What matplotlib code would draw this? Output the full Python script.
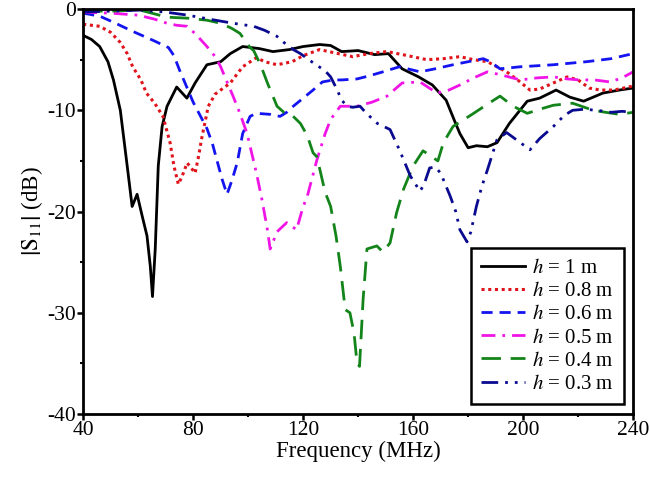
import matplotlib
matplotlib.use("Agg")
import matplotlib.pyplot as plt

plt.rcParams['font.family'] = ['Liberation Serif', 'DejaVu Serif']
plt.rcParams['mathtext.fontset'] = 'stix'
plt.rcParams['axes.unicode_minus'] = False

# h = 1 m
f_1m = [40, 43, 46, 49, 51, 53.5, 56, 57.8, 59.6, 61.5, 63.2, 64.4, 65.2, 66.2, 67.3, 68.7, 70.5,
        74, 77.7, 80.7, 85, 90, 93.5, 98, 104, 109, 115, 120, 126, 130, 134, 140, 146, 151, 156,
        162, 167, 172, 175, 177, 180, 183, 187, 190.5, 195, 201.5, 206, 212, 217, 222, 229, 235, 240]
s_1m = [-2.6, -3.0, -3.7, -5.2, -7.0, -10.0, -15.5, -19.5, -18.3, -20.5, -22.4, -25.4, -28.4, -23.7,
        -15.5, -11.6, -9.6, -7.7, -8.8, -7.3, -5.5, -5.2, -4.4, -3.7, -3.9, -4.2, -4.0, -3.7, -3.5,
        -3.6, -4.2, -4.1, -4.5, -4.4, -5.9, -6.7, -7.5, -9.0, -11.0, -12.3, -13.7, -13.5, -13.6,
        -13.2, -11.3, -9.1, -8.8, -8.0, -8.7, -9.1, -8.3, -8.0, -7.8]

# h = 0.8 m
f_08m = [40, 46, 50, 53.5, 56, 58, 61, 63, 66, 69, 71.6, 73, 74.6, 76, 77.8, 79, 80.7, 82, 83, 85.5,
         88, 90, 93.5, 98, 103, 106, 110.5, 116, 120, 126, 131, 138, 144, 150.5, 158, 165, 171, 177,
         182, 187, 194, 198, 202.5, 206, 211, 216, 220, 224, 228, 233, 240]
s_08m = [-1.5, -1.7, -2.3, -3.3, -4.4, -5.7, -7.0, -8.3, -9.3, -10.6, -13.2, -15.5, -17.3, -16.5,
         -15.2, -15.6, -16.2, -14.5, -12.9, -9.6, -8.4, -8.0, -7.3, -5.7, -4.8, -5.2, -5.5, -5.2,
         -4.6, -4.0, -4.3, -4.7, -4.4, -4.2, -4.6, -5.0, -4.9, -4.7, -5.0, -5.2, -6.2, -7.0, -8.0,
         -7.9, -7.3, -6.7, -7.0, -7.8, -8.0, -8.0, -7.6]

# h = 0.6 m
f_06m = [40, 46, 51, 58, 65.5, 71, 73, 75, 77.5, 80, 82.5, 85, 87, 88.7, 90.5, 92.3, 94, 96, 98, 100.7,
         103, 108, 111.6, 114, 116.4, 120, 123.6, 127, 131, 134, 139.6, 144, 149, 155, 158, 162.5,
         168, 174.5, 180, 185.5, 188, 191.6, 199, 211, 223, 232, 240]
s_06m = [-0.4, -0.7, -1.3, -2.2, -3.1, -3.8, -4.6, -6.0, -7.6, -9.2, -10.5, -11.8, -13.3, -15.0,
         -16.8, -18.3, -17.0, -15.2, -12.3, -10.6, -10.3, -10.4, -10.6, -10.2, -9.6, -8.8, -8.0,
         -7.2, -7.0, -7.0, -6.9, -6.6, -6.2, -5.7, -5.9, -6.2, -5.9, -5.5, -5.2, -4.9, -5.2, -5.9,
         -5.7, -5.5, -5.2, -4.9, -4.4]

# h = 0.5 m
f_05m = [40, 50, 60, 66, 70.5, 74, 77.8, 81, 85, 88, 90, 92, 94.5, 97, 99.6, 103, 105, 107, 108,
         110.5, 114, 117.6, 120, 121.5, 125, 128, 130, 133.5, 139.6, 145, 150.5, 156, 162.5, 168.7,
         173, 177, 182, 187, 192, 199, 205, 211, 216, 220.7, 226, 231.6, 236, 240]
s_05m = [-0.3, -0.4, -0.6, -1.0, -1.4, -1.6, -1.7, -2.5, -3.7, -4.7, -5.7, -7.0, -8.6, -10.3, -12.3,
         -16.2, -18.8, -21.8, -23.7, -22.0, -21.1, -21.8, -19.5, -18.5, -14.9, -12.3, -10.9, -9.6,
         -9.6, -9.2, -8.6, -7.3, -7.2, -8.3, -8.0, -7.5, -6.8, -6.2, -6.5, -7.0, -6.8, -6.7, -6.9,
         -7.0, -7.0, -7.2, -6.8, -6.2]

# h = 0.4 m
f_04m = [40, 50, 60.7, 70.5, 78, 85, 90, 94, 97, 100.7, 102, 104.5, 107, 110.5, 113, 116, 119, 121.5,
         123.6, 125, 128, 130, 132, 133.5, 135.3, 137, 138.5, 139.6, 140.5, 141.8, 143.2, 146.8, 149,
         151.6, 154, 156.5, 160, 163.6, 166.8, 169, 171, 174.5, 178, 182, 187, 191.6, 196.4, 201.5,
         206, 211, 218, 225.5, 230, 235, 240]
s_04m = [-0.2, -0.2, -0.1, -0.8, -0.9, -1.1, -1.4, -1.9, -2.4, -3.8, -4.1, -5.5, -7.3, -9.6, -10.2,
         -10.5, -11.3, -12.5, -14.2, -14.6, -18.1, -19.5, -22.5, -25.4, -29.7, -30.0, -32.0, -35.0,
         -35.3, -28.7, -23.7, -23.4, -24.0, -23.1, -20.1, -17.8, -15.5, -14.0, -14.6, -15.0, -13.2,
         -11.6, -11.0, -10.3, -9.4, -8.6, -9.6, -10.3, -9.9, -9.5, -9.3, -10.0, -10.2, -10.4, -10.2]

# h = 0.3 m
f_03m = [40, 50, 60.7, 70, 78, 86, 94.5, 102, 106, 110.5, 113, 116.4, 119, 123.6, 128, 130, 132.4,
         134, 136, 138, 140.7, 143, 147, 151.6, 155, 157, 159, 162.5, 164, 166, 168, 170, 173.5,
         175.5, 177, 179.6, 181, 183, 185, 187, 190.5, 194, 198, 202.5, 206, 211, 215, 218, 222,
         227, 232, 236, 240]
s_03m = [-0.3, -0.2, -0.1, -0.3, -0.6, -1.0, -1.4, -1.7, -2.1, -2.7, -3.3, -4.0, -4.4, -5.3, -6.1,
         -6.7, -8.0, -9.0, -9.6, -9.7, -9.6, -10.3, -11.3, -11.9, -13.9, -15.2, -16.5, -18.0, -17.3,
         -15.7, -15.6, -16.2, -18.5, -20.0, -21.8, -23.0, -22.0, -19.5, -17.5, -15.9, -12.9, -12.2,
         -13.0, -13.9, -12.8, -11.6, -10.5, -10.0, -9.9, -10.0, -10.2, -10.1, -10.2]

labels = [r'$h$ = 1 m', r'$h$ = 0.8 m', r'$h$ = 0.6 m', r'$h$ = 0.5 m', r'$h$ = 0.4 m', r'$h$ = 0.3 m']
x_ticks = [40, 80, 120, 160, 200, 240]
y_ticks = [-40, -30, -20, -10, 0]

fig = plt.figure(figsize=(6.5, 4.78), dpi=100)
ax = fig.add_axes([0.128, 0.134, 0.846, 0.847])

series = [
    (f_1m, s_1m, dict(color='#000000', linestyle='-', linewidth=2.0)),
    (f_08m, s_08m, dict(color='#e0141c', linestyle=(0, (1, 1.2)), linewidth=2.2)),
    (f_06m, s_06m, dict(color='#1414f0', linestyle=(0, (4, 2.5)), linewidth=2.0)),
    (f_05m, s_05m, dict(color='#f014e6', linestyle=(0, (5, 2.5, 1, 2.5)), linewidth=2.0)),
    (f_04m, s_04m, dict(color='#13841a', linestyle=(0, (7, 3.5)), linewidth=2.0)),
    (f_03m, s_03m, dict(color='#0a0a90', linestyle=(0, (6, 2.5, 1, 2.5, 1, 2.5)), linewidth=2.0)),
]
for (fx, sy, st), lab in zip(series, labels):
    ax.plot(fx, sy, label=lab, solid_joinstyle='round', dash_joinstyle='round', **st)

ax.set_xlim(40, 240)
ax.set_ylim(-40, 0)
ax.set_xticks(x_ticks)
ax.set_yticks(y_ticks)
ax.set_xticks([60, 100, 140, 180, 220], minor=True)
ax.set_yticks([-35, -25, -15, -5], minor=True)
ax.tick_params(which='major', direction='out', length=4, width=1.8, labelsize=15.5, pad=1,
               top=False, right=False)
ax.tick_params(which='minor', direction='out', length=2.5, width=1.5, top=False, right=False)
for sp in ax.spines.values():
    sp.set_linewidth(2.0)

ax.set_xlabel('Frequency (MHz)', fontsize=16.5, labelpad=1)
ax.set_ylabel(r'$\left|\mathrm{S}_{11}\right|$ (dB)', fontsize=16.5, labelpad=2)

leg = ax.legend(loc='lower right', bbox_to_anchor=(0.984, 0.024), fontsize=15,
                frameon=True, fancybox=False, edgecolor='black', framealpha=1,
                handlelength=2.1, handletextpad=0.35, labelspacing=0.17, borderpad=0.5,
                borderaxespad=0)
leg.get_frame().set_linewidth(1.8)

fig.savefig('out.png', dpi=100)
